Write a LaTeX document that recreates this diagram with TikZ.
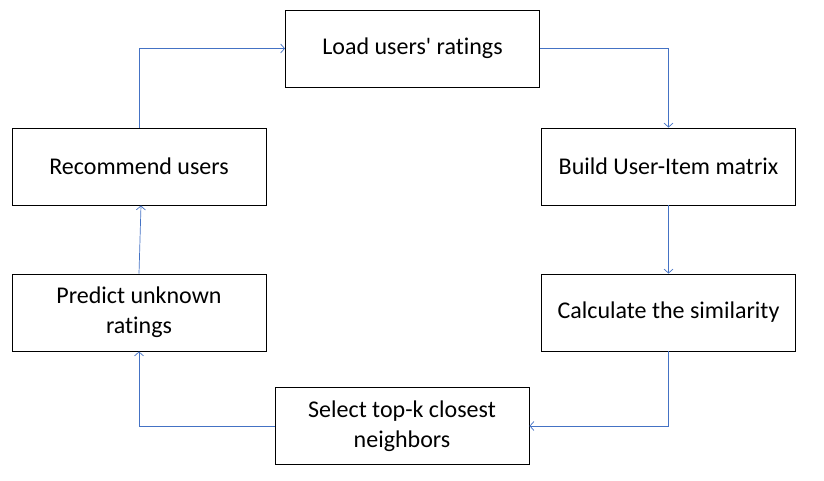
\documentclass[tikz,border=0pt]{standalone}
\usepackage{fontspec}
\setmainfont{Carlito}[Ligatures=NoCommon]
\usetikzlibrary{arrows.meta,positioning}
\definecolor{linkblue}{RGB}{68,114,196}
\tikzstyle{stepbox} = [rectangle, minimum width=254pt, minimum height=77pt,
text centered, align=center, draw=black, line width=0.9pt, fill=white,
font=\fontsize{24}{30}\selectfont]
\tikzstyle{arrow} = [draw=linkblue, line width=0.7pt,
-{Straight Barb[length=4pt,width=9pt]}]

\begin{document}
\begin{tikzpicture}[x=1pt, y=-1pt]
            \useasboundingbox (0,0) rectangle (824,481);
            \node[stepbox] (load) at (412.5,48.5) {Load users\textquotesingle{} ratings};
            \node[stepbox] (build) at (668.5,166.5) {Build User-Item matrix};
            \node[stepbox] (calc) at (668.5,312.5) {Calculate the similarity};
            \node[stepbox] (select) at (402,426) {Select top-k closest\\neighbors};
            \node[stepbox] (predict) at (139,312.5) {Predict unknown\\ratings};
            \node[stepbox] (recommend) at (139,166.5) {Recommend users};
            \draw[arrow] (load.east) -| (build.north);
            \draw[arrow] (build.south) -- (calc.north);
            \draw[arrow] (calc.south) |- (select.east);
            \draw[arrow] (select.west) -| (predict.south);
            \draw[arrow] (predict.north) -- ([xshift=2pt]recommend.south);
            \draw[arrow] (recommend.north) |- (load.west);
        \end{tikzpicture}
\end{document}
